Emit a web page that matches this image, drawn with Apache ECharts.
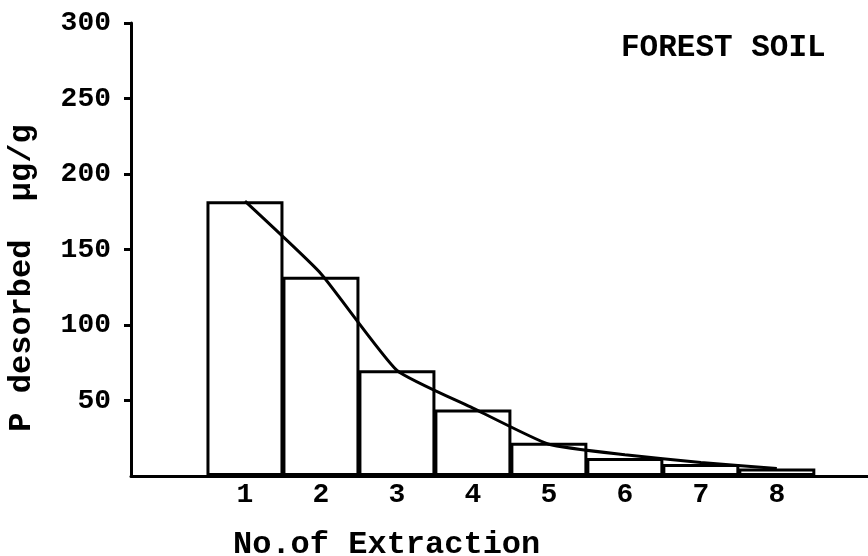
<!DOCTYPE html>
<html>
<head>
<meta charset="utf-8">
<script src="https://cdn.jsdelivr.net/npm/echarts@6/dist/echarts.min.js"></script>
<style>
  html, body { margin: 0; padding: 0; background: #fff; }
  #chart { width: 868px; height: 556px; }
</style>
</head>
<body>
<div id="chart"></div>
<script>
// extraction number, P desorbed (ug/g)
const extractions = [1, 2, 3, 4, 5, 6, 7, 8];
const barValues = [182, 132, 70, 44, 22, 12, 8, 5];
const lineValues = [182, 134, 70, 45, 21, 14, 9, 5];
const yTicks = [50, 100, 150, 200, 250, 300];

const font = "'Liberation Mono', 'DejaVu Sans Mono', monospace";
const ink = "#000";

const chart = echarts.init(document.getElementById("chart"));

const option = {
  animation: false,
  backgroundColor: "#fff",
  grid: { left: 131, right: 0, top: 23, bottom: 80 },
  title: [
    {
      text: "FOREST SOIL",
      left: 616,
      top: 28,
      textStyle: { fontFamily: font, fontSize: 31, fontWeight: "bold", color: ink },
    },
    {
      text: "No.of Extraction",
      left: 228,
      top: 524,
      textStyle: { fontFamily: font, fontSize: 32, fontWeight: "bold", color: ink },
    },
  ],
  graphic: [
    {
      type: "text",
      x: 22,
      y: 278,
      rotation: Math.PI / 2,
      style: {
        text: "P desorbed  µg/g",
        font: "bold 32px " + font,
        fill: ink,
        textAlign: "center",
        textVerticalAlign: "middle",
      },
    },
  ],
  xAxis: {
    type: "value",
    min: -0.5,
    max: 9.2,
    splitLine: { show: false },
    axisLine: { onZero: false, lineStyle: { color: ink, width: 3 } },
    axisTick: { show: false },
    axisLabel: {
      customValues: extractions,
      margin: 5,
      fontFamily: font,
      fontSize: 28,
      fontWeight: "bold",
      color: ink,
    },
  },
  yAxis: {
    type: "value",
    min: 0,
    max: 300,
    interval: 50,
    splitLine: { show: false },
    axisLine: { show: true, onZero: false, lineStyle: { color: ink, width: 3 } },
    axisTick: {
      show: true,
      customValues: yTicks,
      length: 7,
      lineStyle: { color: ink, width: 3 },
    },
    axisLabel: {
      customValues: yTicks,
      margin: 20,
      fontFamily: font,
      fontSize: 28,
      fontWeight: "bold",
      color: ink,
    },
  },
  series: [
    {
      type: "bar",
      data: extractions.map((x, i) => [x, barValues[i]]),
      barWidth: 77,
      itemStyle: { color: "#fff", borderColor: ink, borderWidth: 3 },
      z: 2,
    },
    {
      type: "line",
      data: extractions.map((x, i) => [x, lineValues[i]]),
      smooth: 0.15,
      showSymbol: false,
      lineStyle: { color: ink, width: 3 },
      z: 3,
    },
  ],
};

chart.setOption(option);
window.addEventListener("resize", () => chart.resize());
</script>
</body>
</html>
